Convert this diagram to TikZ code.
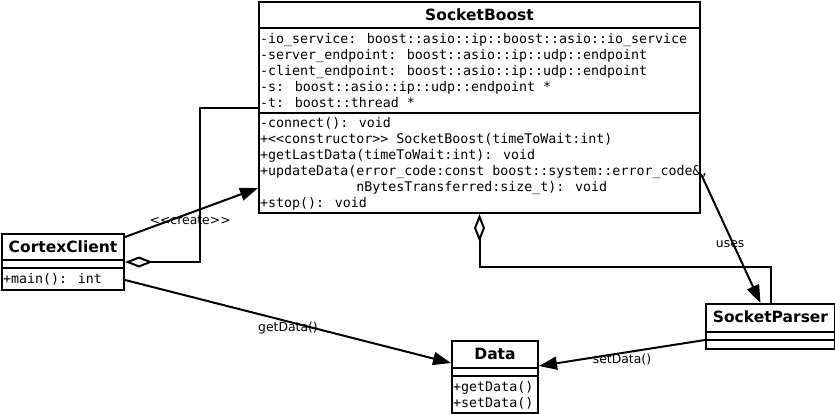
\documentclass[tikz,border=0pt]{standalone}
\usepackage{fontspec}
\newfontfamily\umlmono{DejaVu Sans Mono}[Ligatures=TeXOff]
\newfontfamily\umlsans{DejaVu Sans}[Ligatures=TeXOff]
\usetikzlibrary{arrows.meta}
\usetikzlibrary{calc}

\begin{document}
\begin{tikzpicture}[x=1pt,y=-1pt,
  classbox/.style={draw,line width=2pt,rectangle,inner sep=0pt,anchor=north west},
  classname/.style={font=\umlsans\bfseries\fontsize{15.5}{18}\selectfont,inner sep=0pt},
  members/.style={font=\umlmono\fontsize{13.3}{16}\selectfont,align=left,anchor=north west,inner sep=0pt},
  sep/.style={line width=2pt},
  assoc/.style={line width=2pt,-{Triangle[length=18pt,width=13pt]}},
  aggr/.style={line width=2pt,{Diamond[open,length=28pt,width=11pt]}-},
  lbl/.style={font=\umlsans\fontsize{12.4}{14}\selectfont,inner sep=0pt}]
\useasboundingbox (0,0) rectangle (835,413);

% SocketBoost class
\node[classbox,minimum width=441pt,minimum height=211pt] (boost) at (258,1) {};
\draw[sep] ($(boost.north west)+(0,27)$) -- ($(boost.north east)+(0,27)$);
\draw[sep] ($(boost.north west)+(0,112)$) -- ($(boost.north east)+(0,112)$);
\node[classname] (boostname) at ($(boost.north)+(0,14)$) {SocketBoost};
\node[members] (boostattr) at (260,33.5) {-io\_service: boost::asio::ip::boost::asio::io\_service\\
-server\_endpoint: boost::asio::ip::udp::endpoint\\
-client\_endpoint: boost::asio::ip::udp::endpoint\\
-s: boost::asio::ip::udp::endpoint *\\
-t: boost::thread *};
\node[members] (boostops) at (260,117.5) {-connect(): void\\
+<<constructor>> SocketBoost(timeToWait:int)\\
+getLastData(timeToWait:int): void\\
+updateData(error\_code:const boost::system::error\_code\&,\\
\phantom{+updateData(}nBytesTransferred:size\_t): void\\
+stop(): void};

% CortexClient class
\node[classbox,minimum width=122pt,minimum height=56pt] (client) at (1,233) {};
\draw[sep] ($(client.north west)+(0,27)$) -- ($(client.north east)+(0,27)$);
\draw[sep] ($(client.north west)+(0,35)$) -- ($(client.north east)+(0,35)$);
\node[classname] (clientname) at ($(client.north)+(0,14)$) {CortexClient};
\node[members] (clientops) at (3,273) {+main(): int};

% Data class
\node[classbox,minimum width=86pt,minimum height=72pt] (data) at (451,340) {};
\draw[sep] ($(data.north west)+(0,28)$) -- ($(data.north east)+(0,28)$);
\draw[sep] ($(data.north west)+(0,36)$) -- ($(data.north east)+(0,36)$);
\node[classname] (dataname) at ($(data.north)+(0,14)$) {Data};
\node[members] (dataops) at (453,381.5) {+getData()\\+setData()};

% SocketParser class
\node[classbox,minimum width=129pt,minimum height=45pt] (parser) at (705,303) {};
\draw[sep] ($(parser.north west)+(0,29)$) -- ($(parser.north east)+(0,29)$);
\draw[sep] ($(parser.north west)+(0,37)$) -- ($(parser.north east)+(0,37)$);
\node[classname] (parsername) at ($(parser.north)+(0,14)$) {SocketParser};

% relations
\draw[assoc] ($(client.north east)+(0,4)$) -- node[lbl,pos=0.49,yshift=-7pt] {<<create>>} ($(boost.south west)+(0,-26)$);
\draw[aggr] (client.east) -- ++(75,0) |- (boost.west);
\draw[assoc] ($(client.south east)+(0,-11)$) -- node[lbl,pos=0.5,yshift=-7pt] {getData()} ($(data.north west)+(0,23)$);
\draw[assoc] ($(boost.south east)+(0,-40)$) -- node[lbl,pos=0.54,xshift=-3pt] {uses} ($(parser.north)+(-10,0)$);
\draw[aggr] (boost.south) -- ++(0,53) -| (parser.north);
\draw[assoc] ($(parser.south west)+(0,-10)$) -- node[lbl,pos=0.5,yshift=-7pt] {setData()} ($(data.north east)+(0,26)$);

\end{tikzpicture}
\end{document}
